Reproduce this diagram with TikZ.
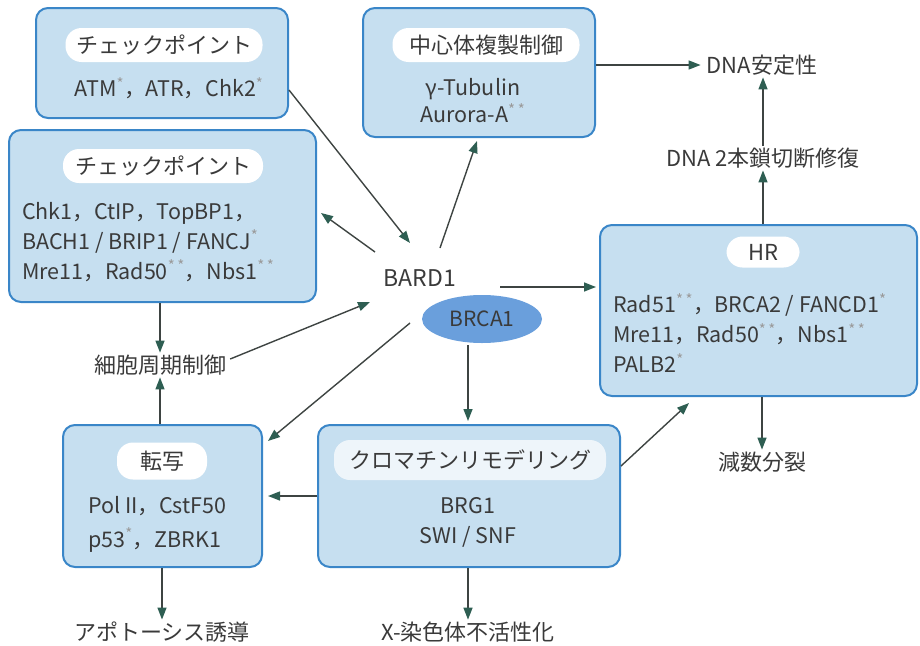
\documentclass[tikz,border=0pt]{standalone}
\usepackage{fontspec}
\setmainfont{Noto Sans CJK JP}
\usetikzlibrary{arrows.meta,calc,shapes.geometric}
\definecolor{boxfill}{HTML}{C6DFF0}
\definecolor{boxline}{HTML}{3A86C8}
\definecolor{txt}{HTML}{3A3A3A}
\definecolor{arr}{HTML}{3E4442}
\definecolor{arrhead}{HTML}{2E5E52}
\definecolor{astc}{HTML}{9A9A9A}
\definecolor{ellfill}{HTML}{6A9FDC}
\newcommand{\sta}{\textsuperscript{\textcolor{astc}{*}}}
\newcommand{\stb}{\textsuperscript{\textcolor{astc}{*\,*}}}
\begin{document}
\begin{tikzpicture}[x=1pt,y=-1pt,
  every node/.style={text=txt},
  box/.style={draw=boxline, line width=2pt, fill=boxfill, rounded corners=12pt, inner sep=0pt},
  pill/.style={fill=white, rounded corners=16pt, inner sep=0pt, minimum height=34pt, font=\fontsize{22}{24}\selectfont},
  lbl/.style={inner sep=2pt, font=\fontsize{22}{24}\selectfont},
  items/.style={inner sep=0pt, font=\fontsize{21.5}{30}\selectfont},
  arrow/.style={draw=arr, line width=1.4pt, -{Triangle[length=12pt,width=9pt,color=arrhead]}}]
\useasboundingbox (0,0) rectangle (920,645);
% boxes
\node[box, minimum width=252pt, minimum height=110pt] (cp1) at (162,63) {};
\node[box, minimum width=307pt, minimum height=172pt] (cp2) at (162.5,216) {};
\node[box, minimum width=232pt, minimum height=129pt] (cen) at (479,72.5) {};
\node[box, minimum width=317pt, minimum height=171pt] (hr) at (758.5,310.5) {};
\node[box, minimum width=199pt, minimum height=142pt] (tr) at (162.5,496) {};
\node[box, minimum width=302pt, minimum height=142pt] (ch) at (469,496) {};
% pills
\node[pill, minimum width=197pt] (p1) at (164,45) {チェックポイント};
\node[pill, minimum width=200pt] (p2) at (163,166) {チェックポイント};
\node[pill, minimum width=187pt] (p3) at (486,45) {中心体複製制御};
\node[pill, minimum width=73pt, minimum height=31pt] (p4) at (763,252) {HR};
\node[pill, minimum width=90pt, minimum height=37pt] (p5) at (162,461) {転写};
\node[pill, minimum width=272pt, minimum height=40pt, fill=white!70!boxfill] (p6) at (470,460) {クロマチンリモデリング};
% item texts
\node[items] (t1) at (169,88) {ATM\sta，ATR，Chk2\sta};
\node[items, anchor=west, align=left] (t2) at (22,242) {Chk1，CtIP，TopBP1，\\BACH1 / BRIP1 / FANCJ\sta\\Mre11，Rad50\stb，Nbs1\stb};
\node[items, align=center, font=\fontsize{21.5}{27}\selectfont] (t3) at (473,101) {γ-Tubulin\\Aurora-A\stb};
\node[items, anchor=west, align=left] (t4) at (613,333) {Rad51\stb，BRCA2 / FANCD1\sta\\Mre11，Rad50\stb，Nbs1\stb\\PALB2\sta};
\node[items, anchor=west, align=left, font=\fontsize{21.5}{34}\selectfont] (t5) at (88,524) {Pol II，CstF50\\p53\sta，ZBRK1};
\node[items, align=center] (t6) at (468,522) {BRG1\\SWI / SNF};
% free labels
\node[lbl, font=\fontsize{23}{24}\selectfont] (bard) at (420,278) {BARD1};
\node[ellipse, fill=ellfill, minimum width=120pt, minimum height=48pt, inner sep=0pt, font=\fontsize{21}{24}\selectfont] (brca) at (482,319) {BRCA1};
\node[lbl] (stab) at (762,65) {DNA安定性};
\node[lbl] (dsb) at (763,158) {DNA 2本鎖切断修復};
\node[lbl] (cyc) at (160,365) {細胞周期制御};
\node[lbl] (mei) at (762,462) {減数分裂};
\node[lbl] (apo) at (162,632) {アポトーシス誘導};
\node[lbl] (xin) at (468,632) {X-染色体不活性化};
% connectors
\draw[arrow] ($(cp1.east)+(0,27)$) -- ($(bard.center)+(-10,-35)$);
\draw[arrow] ($(bard.center)+(-45,-26)$) -- ($(cp2.east)+(4,-3)$);
\draw[arrow] ($(bard.center)+(20,-30)$) -- ($(cen.south)+(-2,3)$);
\draw[arrow] (cen.east |- stab.west) -- ($(stab.west)+(-4,0)$);
\draw[arrow] (dsb.south |- hr.north) -- (dsb.south);
\draw[arrow] (dsb.north) -- (dsb.north |- stab.south);
\draw[arrow] ($(bard.center)+(80,9)$) coordinate (b7) -- ($(b7 -| hr.west)+(-3,0)$);
\draw[arrow] (mei.north |- hr.south) -- (mei.north);
\draw[arrow] (cyc.north |- cp2.south) -- (cyc.north);
\draw[arrow] ($(cyc.east)+(2,-6)$) -- ($(bard.center)+(-50,24)$);
\draw[arrow] (cyc.south |- tr.north) -- (cyc.south);
\draw[arrow] ($(brca.center)+(-72,4)$) -- ($(tr.north east)+(5,17)$);
\draw[arrow] (ch.west) -- ($(tr.east)+(5,0)$);
\draw[arrow] ($(brca.south)+(-14,2)$) -- ($(brca.south |- ch.north)+(-14,-3)$);
\draw[arrow] ($(ch.east)+(0,-30)$) -- ($(hr.south west)+(90,6)$);
\draw[arrow] (apo.north |- tr.south) -- (apo.north);
\draw[arrow] (xin.north |- ch.south) -- (xin.north);
\end{tikzpicture}
\end{document}
